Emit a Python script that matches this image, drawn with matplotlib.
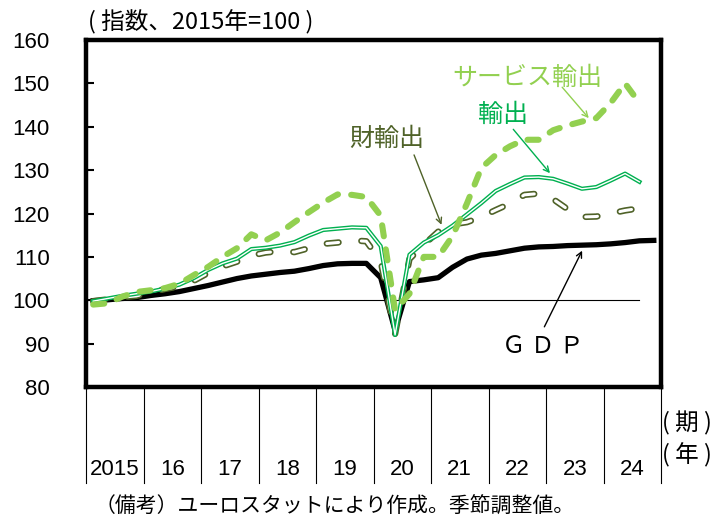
import matplotlib
matplotlib.use("Agg")
import matplotlib.pyplot as plt
from matplotlib import font_manager

# quarterly index, 2015=100 (2015Q1 .. 2024Q4)
years = ["2015", "16", "17", "18", "19", "20", "21", "22", "23", "24"]
gdp = [99.9, 100.1, 100.4, 100.6, 101.1, 101.5, 102.0, 102.7, 103.4, 104.2,
       105.0, 105.6, 106.0, 106.4, 106.7, 107.3, 108.0, 108.4, 108.5, 108.5,
       105.2, 93.0, 104.3, 104.7, 105.2, 107.6, 109.5, 110.4, 110.8, 111.4,
       112.0, 112.3, 112.4, 112.6, 112.7, 112.8, 113.0, 113.3, 113.7, 113.8]
exports = [99.8, 100.4, 101.0, 101.5, 102.0, 102.7, 103.6, 105.1, 107.0, 108.5,
           109.6, 111.8, 112.1, 112.6, 113.4, 114.9, 116.2, 116.5, 116.8, 116.7,
           112.5, 92.0, 110.5, 113.3, 115.0, 117.2, 119.8, 122.4, 125.2, 126.8,
           128.3, 128.4, 128.0, 126.9, 125.7, 126.1, 127.6, 129.2, 127.3]
goods = [99.8, 100.2, 100.7, 101.0, 101.8, 102.6, 103.2, 104.5, 106.3, 107.8,
         108.9, 110.3, 111.0, 111.3, 111.1, 112.0, 113.0, 113.3, 113.8, 113.6,
         109.0, 92.2, 109.5, 112.8, 115.8, 117.5, 118.0, 119.2, 120.8, 122.3,
         124.3, 124.6, 123.3, 121.0, 119.2, 119.3, 120.0, 120.7, 121.2]
services = [99.0, 99.3, 100.8, 101.9, 102.3, 102.8, 103.8, 105.8, 107.7, 110.0,
            112.0, 115.2, 113.8, 115.6, 118.0, 120.3, 122.5, 124.4, 124.3, 123.8,
            119.5, 97.7, 101.5, 110.0, 110.0, 114.8, 122.3, 130.5, 133.5, 135.5,
            137.0, 137.0, 139.2, 140.3, 141.2, 142.0, 145.5, 150.0, 145.5]

LIGHT = "#92D050"
GREEN = "#00B050"
OLIVE = "#4F6228"
JP = "Noto Sans CJK JP"

names = {f.name for f in font_manager.fontManager.ttflist}
if "Liberation Sans Narrow" in names:
    NUM, NUMSIZE = "Liberation Sans Narrow", 19
else:
    NUM, NUMSIZE = "Liberation Sans", 16

plt.rcParams["lines.scale_dashes"] = False

fig = plt.figure(figsize=(7.24, 5.26), dpi=100)
ax = fig.add_axes([86 / 724, 1 - 387 / 526, 575 / 724, 347 / 526])

xg = [i + 0.5 for i in range(len(gdp))]
xe = [i + 0.5 for i in range(len(exports))]

ax.plot([0, 38.5], [100, 100], color="black", lw=0.8, zorder=1)

ax.plot(xg, gdp, color="black", lw=3.8, solid_joinstyle="round", zorder=2)

# goods exports: outlined dashes
ax.plot(xe, goods, color=OLIVE, lw=4.6, dashes=(8.5, 16.5),
        dash_capstyle="round", zorder=3)
ax.plot(xe, goods, color="white", lw=2.2, dashes=(8.5, 16.5),
        dash_capstyle="round", zorder=3)

# total exports: double line
ax.plot(xe, exports, color=GREEN, lw=3.0, zorder=4)
ax.plot(xe, exports, color="white", lw=1.0, zorder=4)

# services exports
ax.plot(xe, services, color=LIGHT, lw=4.4, dashes=(8.0, 9.5),
        dash_capstyle="round", zorder=5)

ax.set_xlim(0, 40)
ax.set_ylim(80, 160)
ax.set_yticks(range(80, 161, 10))
ax.set_xticks([])
ax.tick_params(axis="y", direction="in", length=6, width=1.5, pad=26)
for lab in ax.get_yticklabels():
    lab.set_family([NUM, "DejaVu Sans"])
    lab.set_fontsize(NUMSIZE)
for s in ax.spines.values():
    s.set_linewidth(3.2)

# year separators and labels below the axis
for k in range(len(years) + 1):
    ax.plot([4 * k, 4 * k], [0, -0.277], transform=ax.get_xaxis_transform(),
            color="black", lw=0.8, clip_on=False)
for k, y in enumerate(years):
    ax.text(4 * k + 2, -0.239, y, transform=ax.get_xaxis_transform(),
            ha="center", va="center", fontsize=NUMSIZE, family=[NUM, "DejaVu Sans"])

fig.text(662 / 724, 1 - 423 / 526, "( 期 )", ha="left", va="center",
         fontsize=17, family=[JP, "DejaVu Sans"])
fig.text(662 / 724, 1 - 455 / 526, "( 年 )", ha="left", va="center",
         fontsize=17, family=[JP, "DejaVu Sans"])

fig.text(88 / 724, 1 - 22 / 526, "( 指数、2015年=100 )", ha="left", va="center",
         fontsize=17, family=[JP, "DejaVu Sans"])
fig.text(95 / 724, 1 - 507 / 526, "（備考）ユーロスタットにより作成。季節調整値。",
         ha="left", va="center", fontsize=15, family=[JP, "DejaVu Sans"])

# labels with arrows
ax.text(30.7, 151.2, "サービス輸出", color=LIGHT, ha="center", va="center",
        fontsize=18, family=JP)
ax.annotate("", xy=(35.1, 141.5), xytext=(33.0, 149.6),
            arrowprops=dict(arrowstyle="->", color=LIGHT, lw=1.0))
ax.text(29.0, 142.7, "輸出", color=GREEN, ha="center", va="center",
        fontsize=18, family=JP)
ax.annotate("", xy=(32.4, 128.8), xytext=(29.6, 139.9),
            arrowprops=dict(arrowstyle="->", color=GREEN, lw=1.0))
ax.text(20.9, 137.3, "財輸出", color=OLIVE, ha="center", va="center",
        fontsize=18, family=JP)
ax.annotate("", xy=(24.8, 116.8), xytext=(22.75, 134.1),
            arrowprops=dict(arrowstyle="->", color=OLIVE, lw=1.0))
ax.text(31.8, 89.2, "Ｇ Ｄ Ｐ", color="black", ha="center", va="center",
        fontsize=17, family=JP)
ax.annotate("", xy=(34.6, 112.0), xytext=(31.8, 93.3),
            arrowprops=dict(arrowstyle="->", color="black", lw=1.0))

fig.savefig("out.png", dpi=100)
